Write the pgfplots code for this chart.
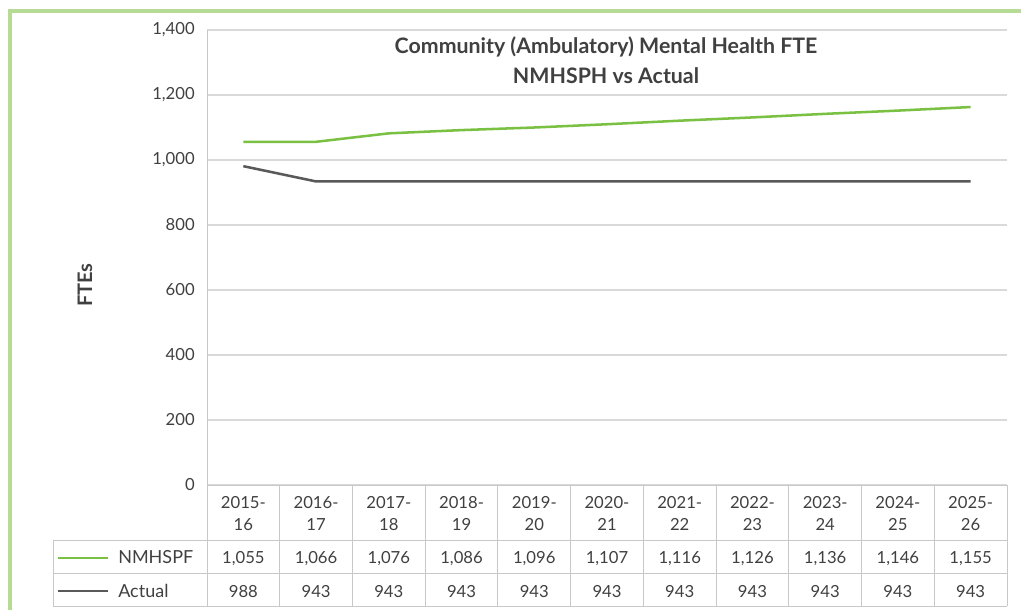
\documentclass[border=0pt]{standalone}
\usepackage{pgfplots}
\pgfplotsset{compat=1.18}
\usepackage{fontspec}
\setmainfont{Lato}
\definecolor{frameg}{HTML}{B5DB95}
\definecolor{lineg}{HTML}{7AC143}
\definecolor{lined}{HTML}{595959}
\definecolor{gridc}{HTML}{D9D9D9}
\definecolor{txt}{HTML}{404040}
\definecolor{tabc}{HTML}{C8C8C8}
\newcommand{\tabfont}{\fontsize{12.5}{15}\selectfont}
\begin{document}
\begin{tikzpicture}[x=0.75pt,y=-0.75pt]
\useasboundingbox (0,0) rectangle (1021,610);
\draw[frameg, line width=3pt] (9.5,612) -- (9.5,11.5) -- (1023,11.5);
\begin{axis}[
  at={(155.25pt,-363.75pt)}, anchor=south west,
  scale only axis, width=600pt, height=341.25pt,
  xmin=-0.5, xmax=10.5, ymin=0, ymax=1400,
  axis line style={draw=none},
  ytick={0,200,...,1400}, xtick=\empty,
  ymajorgrids, grid style={gridc, line width=1pt},
  major tick length=0pt,
  /pgf/number format/assume math mode=true,
  /pgf/number format/1000 sep={,},
  yticklabel style={font=\tabfont, text=txt, inner sep=0pt, xshift=-9pt},
  clip=false,
]
\addplot[lineg, line width=1.9pt] coordinates {(0,1056) (1,1056) (2,1082) (3,1092) (4,1100) (5,1110) (6,1121) (7,1131) (8,1142) (9,1152) (10,1163)};
\addplot[lined, line width=1.9pt] coordinates {(0,981) (1,934) (2,934) (3,934) (4,934) (5,934) (6,934) (7,934) (8,934) (9,934) (10,934)};
\end{axis}
% table grid
\draw[tabc, line width=0.75pt] (207,30) -- (207,606);
\draw[tabc, line width=0.75pt] (207,485) -- (1007,485);
\draw[tabc, line width=0.75pt] (53,540) -- (1007,540);
\draw[tabc, line width=0.75pt] (53,573) -- (1007,573);
\draw[tabc, line width=0.75pt] (53,606) -- (1007,606);
\draw[tabc, line width=0.75pt] (53,540) -- (53,606);
\foreach \k in {1,...,11} {\draw[tabc, line width=0.75pt] ({207+72.727*\k},485) -- ({207+72.727*\k},606);}
% headers
\foreach \a/\b [count=\i from 0] in {2015/16,2016/17,2017/18,2018/19,2019/20,2020/21,2021/22,2022/23,2023/24,2024/25,2025/26} {
  \node[anchor=base, font=\tabfont, text=txt, inner sep=0pt] at ({243.36+72.727*\i},508) {\a-};
  \node[anchor=base, font=\tabfont, text=txt, inner sep=0pt] at ({243.36+72.727*\i},530) {\b};
}
\foreach \v [count=\i from 0] in {{1,055},{1,066},{1,076},{1,086},{1,096},{1,107},{1,116},{1,126},{1,136},{1,146},{1,155}} {
  \node[anchor=base, font=\tabfont, text=txt, inner sep=0pt] at ({243.36+72.727*\i},563) {\v};
}
\foreach \v [count=\i from 0] in {988,943,943,943,943,943,943,943,943,943,943} {
  \node[anchor=base, font=\tabfont, text=txt, inner sep=0pt] at ({243.36+72.727*\i},597) {\v};
}
\draw[lineg, line width=1.9pt] (58,558) -- (108,558);
\draw[lined, line width=1.9pt] (58,591) -- (108,591);
\node[anchor=base west, font=\fontsize{13.5}{15}\selectfont, text=txt, inner sep=0pt] at (118,563) {NMHSPF};
\node[anchor=base west, font=\fontsize{13.5}{15}\selectfont, text=txt, inner sep=0pt] at (118,597) {Actual};
% title
\node[anchor=base, font=\bfseries\fontsize{16}{18}\selectfont, text=txt, inner sep=0pt] at (606,54) {Community (Ambulatory) Mental Health FTE};
\node[anchor=base, font=\bfseries\fontsize{16}{18}\selectfont, text=txt, inner sep=0pt] at (606,84) {NMHSPH vs Actual};
% y label
\node[rotate=90, font=\bfseries\fontsize{15}{18}\selectfont, text=txt, inner sep=0pt] at (85,285) {FTEs};
\end{tikzpicture}
\end{document}
